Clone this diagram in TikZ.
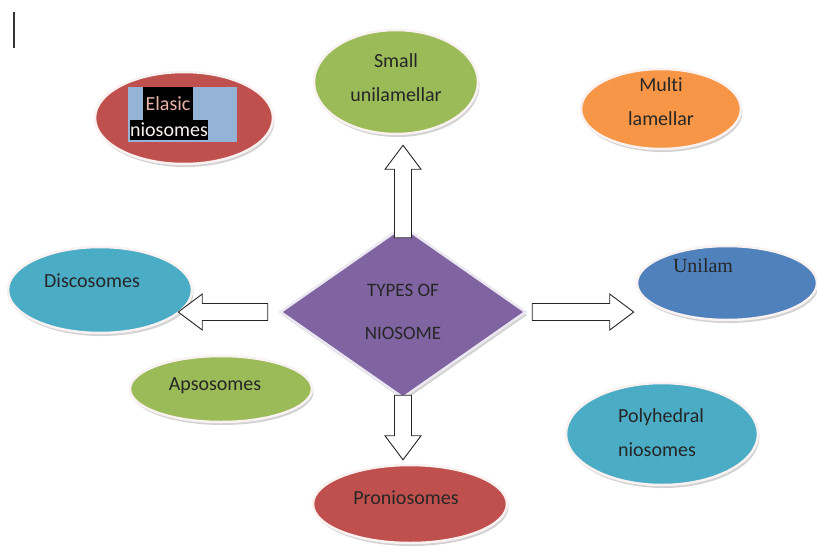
\documentclass[tikz,border=0pt]{standalone}
\usepackage{fontspec}
\setmainfont{Carlito}[Ligatures=NoCommon]
\newfontfamily\romanfont{Liberation Serif}
\usetikzlibrary{shapes.geometric,shadows,calc}

\definecolor{nioRed}{HTML}{C0504D}
\definecolor{nioGreen}{HTML}{9BBB59}
\definecolor{nioOrange}{HTML}{F79646}
\definecolor{nioCyan}{HTML}{4BACC6}
\definecolor{nioBlue}{HTML}{4F81BD}
\definecolor{nioPurple}{HTML}{8064A2}
\definecolor{markBlue}{HTML}{95B3D7}
\definecolor{markText}{HTML}{E8B4A8}

\tikzset{
  vesicle/.style={ellipse, draw=white!92!nioRed, line width=2.5pt, inner sep=0pt,
    drop shadow={shadow xshift=1.5pt, shadow yshift=-3pt, opacity=0.35}},
  vlabel/.style={align=center, inner sep=0pt, text=black!85,
    font=\fontsize{20}{34}\selectfont},
  fatline/.style={draw=black!85, fill=white, line width=0.9pt, line join=miter}
}

% block arrow from #1 to #2
\newcommand{\fatarrow}[2]{%
  \coordinate (fa-h) at ($(#2)!24pt!(#1)$);
  \draw[fatline] ($(#1)!8.5pt!90:(#2)$) -- ($(fa-h)!8.5pt!90:(#2)$)
    -- ($(fa-h)!18pt!90:(#2)$) -- (#2) -- ($(fa-h)!18pt!-90:(#2)$)
    -- ($(fa-h)!8.5pt!-90:(#2)$) -- ($(#1)!8.5pt!-90:(#2)$) -- cycle;}

\begin{document}
\begin{tikzpicture}[
  x=1pt, y=-1pt
]
  \fill[white] (0,0) rectangle (817,555);
  \useasboundingbox (0,0) rectangle (817,555);
  \draw[line width=1.6pt, black!80] (14,12) -- (14,48);

  % vesicles
  \node[vesicle, fill=nioRed, minimum width=178pt, minimum height=92pt] (elastic) at (184,118) {};
  \node[vesicle, fill=nioGreen, minimum width=164pt, minimum height=104pt] (smallU) at (396,82) {};
  \node[vesicle, fill=nioOrange, minimum width=160pt, minimum height=80pt] (multi) at (661,109) {};
  \node[vesicle, fill=nioCyan, minimum width=184pt, minimum height=86pt] (disco) at (100,290) {};
  \node[vesicle, fill=nioBlue, minimum width=180pt, minimum height=74pt] (unilam) at (727,283) {};
  \node[vesicle, fill=nioGreen, minimum width=182pt, minimum height=66pt] (apso) at (221,389) {};
  \node[vesicle, fill=nioCyan, minimum width=192pt, minimum height=102pt] (poly) at (662,434) {};
  \node[vesicle, fill=nioRed, minimum width=194pt, minimum height=78pt] (pron) at (410,504) {};

  % centre
  \node[diamond, fill=nioPurple, draw=white!85!nioPurple, line width=2.5pt, inner sep=0pt,
    drop shadow={shadow xshift=1.5pt, shadow yshift=-3pt, opacity=0.35},
    minimum width=246pt, minimum height=172pt, align=center, text=black!85,
    font=\fontsize{19}{43}\selectfont] (dia) at (403,312) {TYPES OF\\NIOSOME};

  % labels
  \fill[markBlue] (128,87) rectangle (237,142);
  \fill[black] (143,87) rectangle (193,120);
  \fill[black] (130,120) rectangle (208,140);
  \node[vlabel, text=markText] (elasticA) at (168,104) {Elasic};
  \node[vlabel, text=white!92!nioRed] (elasticB) at (169,130) {niosomes};
  \node[vlabel] (smallT) at (396,78) {Small\\unilamellar};
  \node[vlabel] (multiT) at (661,102) {Multi\\lamellar};
  \node[vlabel] (discoT) at (92,281) {Discosomes};
  \node[vlabel, font=\romanfont\fontsize{20}{24}\selectfont] (unilamT) at (703,266) {Unilam};
  \node[vlabel] (apsoT) at (215,386) {Apsosomes};
  \node[vlabel, align=left] (polyT) at (661,433) {Polyhedral\\niosomes};
  \node[vlabel] (pronT) at (406,498) {Proniosomes};

  % arrows
  \coordinate (upTail) at ([yshift=-13pt]dia.north);
  \coordinate (upTip) at ($(dia.north |- smallU.south)+(0,10)$);
  \coordinate (leftTail) at ([xshift=-11pt]dia.west);
  \coordinate (leftTip) at ($(dia.west -| disco.east)+(-15,0)$);
  \coordinate (rightTail) at ([xshift=5pt]dia.east);
  \coordinate (rightTip) at ($(dia.east -| unilam.west)+(-2,0)$);
  \coordinate (downTail) at ([yshift=4pt]dia.south);
  \coordinate (downTip) at ($(dia.south |- pron.north)+(0,-4)$);
  \fatarrow{upTail}{upTip}
  \fatarrow{leftTail}{leftTip}
  \fatarrow{rightTail}{rightTip}
  \fatarrow{downTail}{downTip}

\end{tikzpicture}
\end{document}
